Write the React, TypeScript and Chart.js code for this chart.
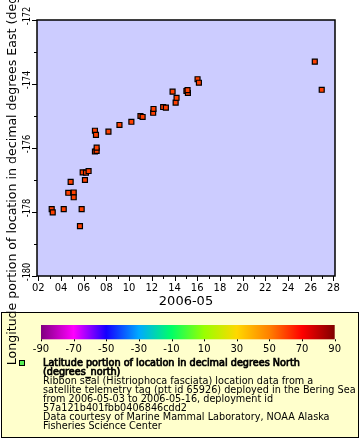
import React, { useEffect, useRef } from 'react';
import { Chart, registerables } from 'chart.js';

Chart.register(...registerables);

const FONT = '"DejaVu Sans", "Liberation Sans", sans-serif';

// Day of May 2006 (fractional) and longitude (degrees east)
const dayOfMay = [
  3.18, 3.27, 4.24, 4.64, 4.85, 5.12, 5.12, 5.67, 5.82, 5.91, 6.11, 6.2, 6.43,
  6.99, 7.14, 7.14, 6.99, 7.08, 8.18, 9.15, 10.2, 11.0, 11.19, 12.12, 12.15,
  13.0, 13.24, 13.83, 14.1, 14.18, 15.05, 15.18, 15.15, 16.03, 16.15, 26.36, 26.97,
];
const longitude = [
  -177.91, -178.01, -177.91, -177.4, -177.06, -177.39, -177.54, -178.44, -177.91,
  -176.76, -177.0, -176.77, -176.72, -176.11, -176.09, -175.99, -175.46, -175.59,
  -175.49, -175.28, -175.18, -175.0, -175.03, -174.9, -174.78, -174.72, -174.74,
  -174.24, -174.58, -174.43, -174.22, -174.28, -174.19, -173.85, -173.96, -173.3,
  -174.18,
];

const xTickValues = [2, 4, 6, 8, 10, 12, 14, 16, 18, 20, 22, 24, 26, 28];
const xMinorTickValues = [3, 5, 7, 9, 11, 13, 15, 17, 19, 21, 23, 25, 27];
const yTickValues = [-180, -178, -176, -174, -172];
const yMinorTickValues = [-179, -177, -175, -173];

const colorbarTicks = [-90, -70, -50, -30, -10, 10, 30, 50, 70, 90];
const colorbarColors = [
  '#800080', '#ff00ff', '#1400ff', '#00aaff', '#00ff66',
  '#99ff00', '#ffd800', '#ff8000', '#ff0000', '#800000',
];

const xTitle = '2006-05';
const yTitle = 'Longitude portion of location in decimal degrees East (degrees_east)';
const legendTitle = [
  'Latitude portion of location in decimal degrees North',
  '(degrees_north)',
];
const legendLines = [
  'Ribbon seal (Histriophoca fasciata) location data from a',
  'satellite telemetry tag (ptt id 65926) deployed in the Bering Sea',
  'from 2006-05-03 to 2006-05-16, deployment id',
  '57a121b401fbb0406846cdd2',
  'Data courtesy of Marine Mammal Laboratory, NOAA Alaska',
  'Fisheries Science Center',
];

const extras = {
  id: 'extras',
  beforeDraw(chart: any) {
    const { ctx, chartArea: a } = chart;
    ctx.save();
    ctx.fillStyle = '#ccccff';
    ctx.fillRect(a.left, a.top, a.right - a.left, a.bottom - a.top);
    ctx.restore();
  },
  afterDraw(chart: any) {
    const { ctx, chartArea: a } = chart;
    const xs = chart.scales.x;
    const ys = chart.scales.y;
    ctx.save();
    ctx.strokeStyle = '#000';
    ctx.fillStyle = '#000';

    // plot border
    ctx.lineWidth = 1.5;
    ctx.strokeRect(a.left, a.top, a.right - a.left, a.bottom - a.top);

    // ticks
    ctx.lineWidth = 1;
    ctx.beginPath();
    xTickValues.forEach((v) => {
      const px = Math.round(xs.getPixelForValue(v)) + 0.5;
      ctx.moveTo(px, a.bottom);
      ctx.lineTo(px, a.bottom + 5);
    });
    xMinorTickValues.forEach((v) => {
      const px = Math.round(xs.getPixelForValue(v)) + 0.5;
      ctx.moveTo(px, a.bottom);
      ctx.lineTo(px, a.bottom + 3);
    });
    yTickValues.forEach((v) => {
      const py = Math.round(ys.getPixelForValue(v)) + 0.5;
      ctx.moveTo(a.left - 5, py);
      ctx.lineTo(a.left, py);
    });
    yMinorTickValues.forEach((v) => {
      const py = Math.round(ys.getPixelForValue(v)) + 0.5;
      ctx.moveTo(a.left - 3, py);
      ctx.lineTo(a.left, py);
    });
    ctx.stroke();

    // y tick labels (rotated)
    ctx.font = `10px ${FONT}`;
    ctx.textAlign = 'center';
    ctx.textBaseline = 'middle';
    yTickValues.forEach((v) => {
      const py = ys.getPixelForValue(v);
      ctx.save();
      ctx.translate(a.left - 9.5, py - 4);
      ctx.rotate(-Math.PI / 2);
      ctx.scale(0.82, 1);
      ctx.fillText(String(v), 0, 0);
      ctx.restore();
    });

    // x title
    ctx.font = `13px ${FONT}`;
    ctx.fillText(xTitle, (a.left + a.right) / 2, a.bottom + 26);

    // legend box
    const boxTop = 312;
    ctx.fillStyle = '#ffffcc';
    ctx.fillRect(1, boxTop, 358, 126);
    ctx.strokeStyle = '#000';
    ctx.lineWidth = 1;
    ctx.strokeRect(1.5, boxTop + 0.5, 357, 125);

    // colorbar
    const cx0 = 41;
    const cx1 = 334.7;
    const cy0 = 325;
    const ch = 14.3;
    const lo = colorbarTicks[0];
    const hi = colorbarTicks[colorbarTicks.length - 1];
    const grad = ctx.createLinearGradient(cx0, 0, cx1, 0);
    colorbarTicks.forEach((t, i) => {
      grad.addColorStop((t - lo) / (hi - lo), colorbarColors[i]);
    });
    ctx.fillStyle = grad;
    ctx.fillRect(cx0, cy0, cx1 - cx0, ch);
    ctx.fillStyle = '#000';
    ctx.font = `10px ${FONT}`;
    ctx.textAlign = 'center';
    ctx.textBaseline = 'middle';
    ctx.beginPath();
    colorbarTicks.forEach((t) => {
      const px = cx0 + ((t - lo) / (hi - lo)) * (cx1 - cx0);
      ctx.moveTo(Math.round(px) + 0.5, cy0 + ch);
      ctx.lineTo(Math.round(px) + 0.5, cy0 + ch + 2);
      ctx.fillText(String(t), px, 349);
    });
    ctx.stroke();

    // legend marker
    ctx.fillStyle = '#55ee55';
    ctx.fillRect(19.5, 360.5, 5, 5);
    ctx.strokeRect(19.5, 360.5, 5, 5);

    // legend text
    ctx.fillStyle = '#000';
    ctx.textAlign = 'left';
    ctx.textBaseline = 'middle';
    let ly = 363.3;
    ctx.font = `9.7px ${FONT}`;
    ctx.lineWidth = 0.7;
    const titleW = ctx.measureText(legendTitle[0]).width;
    const k = Math.min(1, 259 / titleW);
    legendTitle.forEach((s) => {
      ctx.save();
      ctx.translate(43, ly);
      ctx.scale(k, 1);
      ctx.fillText(s, 0, 0);
      ctx.strokeText(s, 0, 0);
      ctx.restore();
      ly += 9.05;
    });
    legendLines.forEach((s) => {
      ctx.fillText(s, 43, ly);
      ly += 9.05;
    });

    // y title (drawn last, over the legend)
    ctx.save();
    ctx.font = `12.6px ${FONT}`;
    ctx.textAlign = 'center';
    ctx.textBaseline = 'middle';
    ctx.translate(12.5, (a.top + a.bottom) / 2);
    ctx.rotate(-Math.PI / 2);
    ctx.fillText(yTitle, 0, 0);
    ctx.restore();

    ctx.restore();
  },
};

export default function App() {
  const ref = useRef<HTMLCanvasElement | null>(null);
  useEffect(() => {
    if (!ref.current) return;
    const chart = new Chart(ref.current, {
      type: 'scatter',
      data: {
        datasets: [
          {
            data: dayOfMay.map((d, i) => ({ x: d, y: longitude[i] })),
            pointStyle: 'rect',
            pointRadius: 3.5,
            pointHoverRadius: 3.5,
            backgroundColor: '#ff4000',
            borderColor: '#000',
            borderWidth: 1.2,
          },
        ],
      },
      options: {
        responsive: false,
        animation: false,
        events: [],
        layout: { padding: { top: 20, right: 25, left: 0, bottom: 0 } },
        plugins: { legend: { display: false }, tooltip: { enabled: false } },
        scales: {
          x: {
            type: 'linear',
            min: 1.885,
            max: 28.14,
            grid: { display: false, drawTicks: false },
            border: { display: false },
            ticks: {
              autoSkip: false,
              maxRotation: 0,
              padding: 6,
              color: '#000',
              font: { family: FONT, size: 10 },
              callback: (v: any) => String(v).padStart(2, '0'),
            },
            afterBuildTicks: (s: any) => {
              s.ticks = xTickValues.map((v) => ({ value: v }));
            },
            afterFit: (s: any) => {
              s.height = 164;
            },
          },
          y: {
            type: 'linear',
            min: -180,
            max: -172,
            grid: { display: false, drawTicks: false },
            border: { display: false },
            ticks: { display: false },
            afterBuildTicks: (s: any) => {
              s.ticks = yTickValues.map((v) => ({ value: v }));
            },
            afterFit: (s: any) => {
              s.width = 37;
            },
          },
        },
      },
      plugins: [extras],
    });
    return () => chart.destroy();
  }, []);
  return (
    <div style={{ position: 'absolute', left: 0, top: 0, width: 360, height: 440 }}>
      <canvas ref={ref} width={360} height={440} />
    </div>
  );
}
